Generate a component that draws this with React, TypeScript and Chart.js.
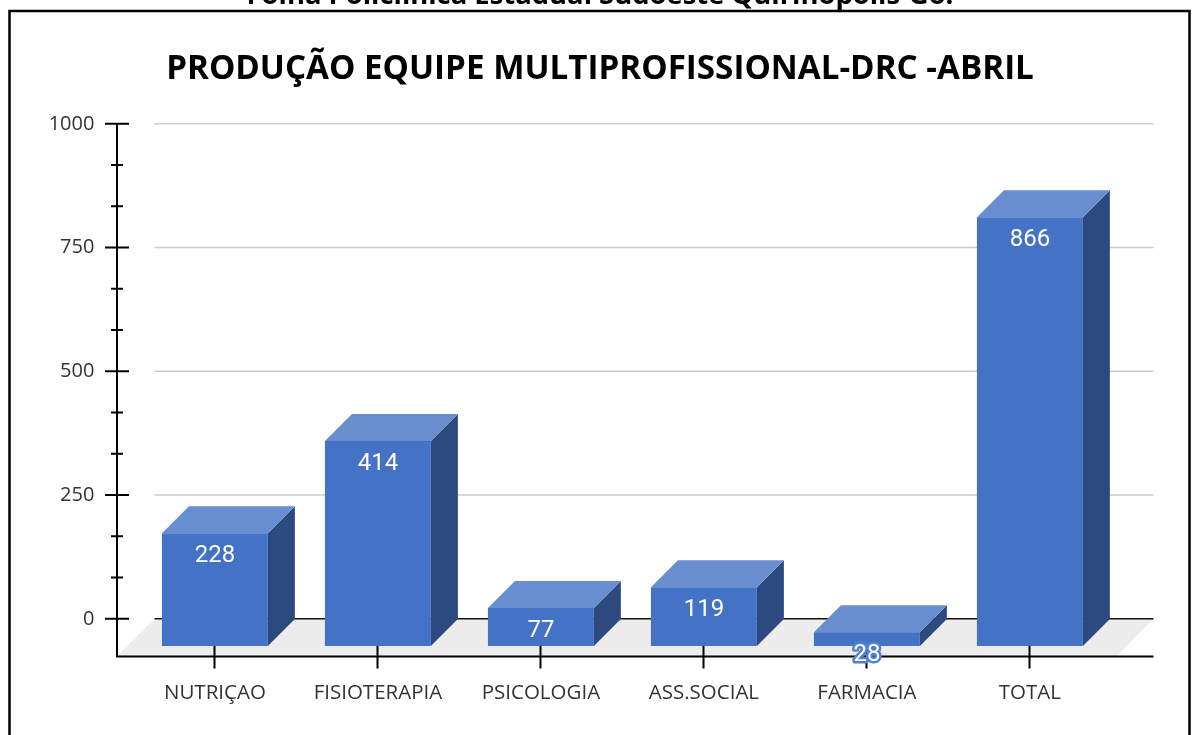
import React, { useEffect, useRef } from "react";
import { Chart, registerables } from "chart.js";

Chart.register(...registerables);

const categories = ["NUTRIÇAO", "FISIOTERAPIA", "PSICOLOGIA", "ASS.SOCIAL", "FARMACIA", "TOTAL"];
const values = [228, 414, 77, 119, 28, 866];
const majorTicks = [0, 250, 500, 750, 1000];
const minorTicks = [83.33, 166.67, 333.33, 416.67, 583.33, 666.67, 833.33, 916.67];
const titleText = "PRODUÇÃO EQUIPE MULTIPROFISSIONAL-DRC -ABRIL";
const clippedHeading = "Folha Policlínica Estadual Sudoeste Quirinópolis-Go.";

const DEPTH = 27;
const FRONT = "#4472C4";
const TOP = "#698ED0";
const SIDE = "#2C4A80";
const FLOOR = "#ECECEC";
const FONT = "'Open Sans', sans-serif";

const chrome3d = {
  id: "chrome3d",
  afterLayout(chart: any) {
    // the title is centred on the whole frame, not on the plot
    chart.titleBlock.left = 8;
    chart.titleBlock.right = 1192;
  },
  beforeDatasetsDraw(chart: any) {
    const { ctx, scales } = chart;
    const y = scales.y;
    const y0 = y.getPixelForValue(0);
    const yBottom = y.bottom;
    const backLeft = 154.5;
    const backRight = 1153.5;
    const axisX = 117;
    ctx.save();
    // clipped heading
    ctx.save();
    ctx.beginPath();
    ctx.rect(0, 0, 1192, 10);
    ctx.clip();
    ctx.fillStyle = "#000";
    ctx.font = `bold 27.4px ${FONT}`;
    ctx.textAlign = "center";
    ctx.textBaseline = "alphabetic";
    ctx.fillText(clippedHeading, 600, 3.5);
    ctx.restore();
    // frame
    ctx.strokeStyle = "#000";
    ctx.lineWidth = 2.5;
    ctx.strokeRect(9.5, 11, 1180, 800);
    // floor
    ctx.fillStyle = FLOOR;
    ctx.beginPath();
    ctx.moveTo(backLeft, y0);
    ctx.lineTo(backRight, y0);
    ctx.lineTo(backRight - (yBottom - y0), yBottom);
    ctx.lineTo(axisX, yBottom);
    ctx.closePath();
    ctx.fill();
    // grid
    ctx.lineWidth = 1.5;
    for (const t of majorTicks) {
      const p = y.getPixelForValue(t) - 0.3;
      ctx.strokeStyle = t === 0 ? "#111" : "#CCCCCC";
      ctx.beginPath();
      ctx.moveTo(backLeft, p);
      ctx.lineTo(backRight, p);
      ctx.stroke();
    }
    // axes
    ctx.strokeStyle = "#000";
    ctx.lineWidth = 2;
    ctx.beginPath();
    ctx.moveTo(axisX, y.getPixelForValue(1000) - 1);
    ctx.lineTo(axisX, yBottom + 1);
    ctx.moveTo(axisX - 1, yBottom);
    ctx.lineTo(backRight, yBottom);
    for (const t of majorTicks) {
      const p = y.getPixelForValue(t) - 0.3;
      ctx.moveTo(axisX - 12, p);
      ctx.lineTo(axisX + 12, p);
    }
    for (const t of minorTicks) {
      const p = y.getPixelForValue(t) - 0.3;
      ctx.moveTo(axisX - 6, p);
      ctx.lineTo(axisX + 6, p);
    }
    categories.forEach((_, i) => {
      const p = Math.round(scales.x.getPixelForValue(i)) - 0.5;
      ctx.moveTo(p, y0 + DEPTH - 1);
      ctx.lineTo(p, yBottom + 12);
    });
    ctx.stroke();
    // bar side and top faces
    const meta = chart.getDatasetMeta(0);
    meta.data.forEach((bar: any) => {
      const left = bar.x - bar.width / 2;
      const right = bar.x + bar.width / 2;
      const top = bar.y + DEPTH;
      const base = bar.base + DEPTH;
      ctx.fillStyle = SIDE;
      ctx.beginPath();
      ctx.moveTo(right, top);
      ctx.lineTo(right + DEPTH, top - DEPTH);
      ctx.lineTo(right + DEPTH, base - DEPTH);
      ctx.lineTo(right, base);
      ctx.closePath();
      ctx.fill();
      ctx.fillStyle = TOP;
      ctx.beginPath();
      ctx.moveTo(left, top);
      ctx.lineTo(left + DEPTH, top - DEPTH);
      ctx.lineTo(right + DEPTH, top - DEPTH);
      ctx.lineTo(right, top);
      ctx.closePath();
      ctx.fill();
    });
    ctx.restore();
    // the front faces drawn by the library sit one depth below the back plane
    ctx.save();
    ctx.translate(0, DEPTH);
  },
  afterDatasetsDraw(chart: any) {
    const { ctx } = chart;
    ctx.restore();
    const meta = chart.getDatasetMeta(0);
    ctx.save();
    ctx.font = `24px Roboto, ${FONT}`;
    ctx.textAlign = "center";
    ctx.textBaseline = "middle";
    ctx.lineJoin = "round";
    meta.data.forEach((bar: any, i: number) => {
      const x = bar.x;
      const yy = bar.y + DEPTH + 23;
      if (values[i] < 50) {
        ctx.strokeStyle = "#5080D0";
        ctx.lineWidth = 5;
        ctx.strokeText(String(values[i]), x, yy);
      }
      ctx.fillStyle = "#FFFFFF";
      ctx.fillText(String(values[i]), x, yy);
    });
    ctx.restore();
  },
};

export default function App() {
  const ref = useRef<HTMLCanvasElement>(null);
  useEffect(() => {
    document.body.style.margin = "0";
    document.body.style.background = "#fff";
    const chart = new Chart(ref.current as HTMLCanvasElement, {
      type: "bar",
      data: {
        labels: categories,
        datasets: [
          {
            data: values,
            backgroundColor: FRONT,
            borderWidth: 0,
            barPercentage: 0.65,
            categoryPercentage: 1,
            clip: false as any,
          },
        ],
      },
      plugins: [chrome3d],
      options: {
        responsive: false,
        animation: false,
        layout: { padding: { left: 8, right: 80.6, top: 0, bottom: 28.5 } },
        plugins: {
          legend: { display: false },
          tooltip: { enabled: false },
          title: {
            display: true,
            text: titleText,
            color: "#000",
            font: { family: FONT, size: 33.2, weight: "bold" },
            padding: { top: 49.5, bottom: 34.66 },
          },
        },
        scales: {
          x: {
            grid: { display: false, drawTicks: false },
            border: { display: false },
            afterFit(s: any) {
              s.height = 50;
            },
            ticks: {
              color: "#333333",
              font: { family: FONT, size: 20.5 },
              padding: 24.5,
              maxRotation: 0,
              autoSkip: false,
            },
          },
          y: {
            min: -75.6,
            max: 1000,
            grid: { display: false, drawTicks: false },
            border: { display: false },
            afterFit(s: any) {
              s.width = 125.4;
            },
            afterBuildTicks(s: any) {
              s.ticks = majorTicks.map((v) => ({ value: v }));
            },
            ticks: {
              color: "#333333",
              font: { family: FONT, size: 20 },
              padding: 39,
              callback: (v: any) => String(v),
            },
          },
        },
      },
    } as any);
    return () => chart.destroy();
  }, []);
  return <canvas ref={ref} width={1192} height={735} style={{ display: "block" }} />;
}
